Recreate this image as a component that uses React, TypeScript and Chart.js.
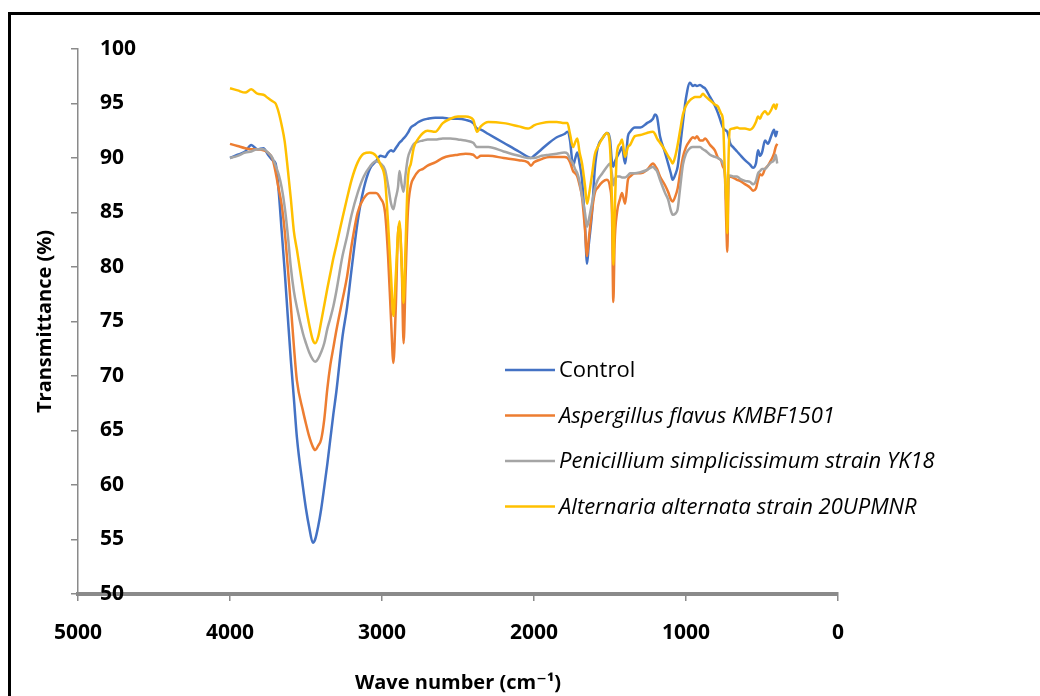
import React, { useEffect, useRef } from "react";
import { Chart, registerables } from "chart.js";

Chart.register(...registerables);

// Wave numbers (cm-1)
const waveNumbers = [
  4000, 3950, 3900, 3860, 3820, 3780, 3750, 3720, 3700, 3680, 3660, 3640, 3620, 3600, 3580, 3560,
  3520, 3500, 3480, 3455, 3440, 3420, 3400, 3380, 3360, 3340, 3320, 3300, 3260, 3230, 3200, 3160,
  3120, 3080, 3040, 3010, 2980, 2960, 2940, 2925, 2910, 2895, 2885, 2870, 2858, 2845, 2830, 2810,
  2790, 2760, 2730, 2700, 2650, 2600, 2550, 2500, 2450, 2400, 2375, 2350, 2300, 2200, 2100, 2040,
  2020, 2000, 1950, 1900, 1850, 1800, 1780, 1763, 1743, 1730, 1715, 1700, 1684, 1665, 1651, 1640,
  1618, 1600, 1580, 1550, 1520, 1500, 1487, 1478, 1470, 1454, 1435, 1421, 1401, 1382, 1368, 1336,
  1300, 1257, 1217, 1204, 1191, 1171, 1138, 1118, 1100, 1088, 1070, 1055, 1039, 1020, 1000, 974,
  955, 941, 928, 908, 888, 875, 842, 810, 789, 770, 757, 745, 735, 728, 720, 711,
  690, 664, 645, 612, 579, 559, 540, 526, 513, 500, 480, 461, 440, 421, 410, 400,
];

const control = [
  90.0, 90.3, 90.6, 91.2, 90.8, 90.9, 90.3, 89.8, 89.5, 87.0, 83.3, 79.6, 75.5, 71.5, 68.0, 64.4,
  59.8, 57.8, 56.2, 54.7, 55.0, 56.2, 57.8, 59.8, 61.9, 64.2, 66.5, 68.6, 73.6, 76.3, 79.8, 84.2,
  87.2, 89.0, 89.7, 90.2, 90.1, 90.5, 90.7, 90.6, 90.9, 91.2, 91.4, 91.6, 91.8, 92.0, 92.3, 92.8,
  93.0, 93.3, 93.5, 93.6, 93.7, 93.7, 93.6, 93.6, 93.5, 93.2, 92.7, 92.6, 92.2, 91.4, 90.6, 90.1,
  90.0, 90.2, 90.8, 91.4, 91.9, 92.2, 92.4, 91.6, 89.3, 89.9, 90.5, 89.5, 88.0, 84.0, 80.3, 82.0,
  85.0, 89.0, 91.0, 91.8, 92.3, 91.7, 89.6, 89.2, 89.6, 90.1, 90.6, 91.0, 89.5, 92.0, 92.4, 92.8,
  92.8, 93.2, 93.6, 94.0, 93.8, 92.0, 90.5, 89.5, 88.6, 88.0, 88.5, 89.2, 91.0, 93.3, 95.5, 96.9,
  96.6, 96.7, 96.6, 96.7, 96.5, 96.4, 95.6, 94.8, 94.1, 93.3, 92.8, 92.6, 92.5, 92.4, 92.0, 91.4,
  91.0, 90.6, 90.3, 89.8, 89.4, 89.1, 89.5, 90.7, 90.2, 90.5, 91.6, 91.3, 92.0, 92.6, 92.0, 92.5,
];

const aspergillus = [
  91.3, 91.1, 90.9, 90.8, 90.8, 90.7, 90.5, 89.9, 88.7, 87.2, 85.7, 83.3, 80.0, 76.5, 72.8, 69.6,
  66.8, 65.6, 64.5, 63.5, 63.2, 63.6, 64.2, 66.0, 68.8, 71.0, 72.6, 74.2, 77.0, 79.1, 82.0, 85.0,
  86.3, 86.8, 86.8, 86.3, 85.0, 81.0, 75.0, 71.2, 76.0, 83.0, 83.8, 80.0, 73.0, 79.0, 85.0, 87.5,
  88.2, 88.8, 89.0, 89.3, 89.6, 90.0, 90.2, 90.3, 90.4, 90.3, 90.0, 90.2, 90.2, 90.0, 89.8, 89.6,
  89.3, 89.6, 89.9, 90.1, 90.1, 90.1, 90.0, 89.6, 88.8, 88.6, 88.3, 87.5, 86.4, 83.5, 81.0, 82.5,
  85.2, 86.8, 87.3, 87.8, 88.0, 87.3, 85.0, 76.8, 82.0, 85.0, 86.2, 86.8, 85.8, 88.0, 88.3, 88.6,
  88.6, 88.9, 89.5, 89.3, 89.0, 88.3, 87.5, 86.9, 86.2, 86.0, 86.5, 87.2, 88.6, 90.1, 91.0, 91.6,
  91.9, 91.8, 92.0, 91.6, 91.6, 91.8, 91.2, 90.7, 90.0, 89.8, 89.2, 88.6, 84.0, 81.4, 88.0, 88.3,
  88.2, 88.0, 87.9, 87.6, 87.3, 87.0, 87.2, 88.0, 88.5, 88.4, 89.0, 89.3, 89.8, 90.4, 91.0, 91.3,
];

const penicillium = [
  90.0, 90.2, 90.5, 90.6, 90.8, 90.8, 90.5, 90.0, 89.3, 88.5, 87.3, 85.5, 83.0, 80.0, 77.8, 76.3,
  73.9, 73.0, 72.2, 71.5, 71.3, 71.6, 72.2, 73.0, 74.3, 75.3, 76.4, 77.8, 81.0, 82.8, 84.8, 86.8,
  88.3, 89.2, 89.7, 89.5, 88.9, 87.5, 85.8, 85.3, 86.3, 87.3, 88.8, 87.5, 86.9, 88.5, 90.0, 90.8,
  91.3, 91.5, 91.6, 91.7, 91.7, 91.8, 91.8, 91.7, 91.6, 91.4, 91.0, 91.0, 91.0, 90.6, 90.2, 90.0,
  90.0, 90.0, 90.2, 90.3, 90.4, 90.5, 90.4, 89.9, 89.5, 89.0, 88.6, 87.8, 86.5, 85.0, 83.7, 84.3,
  85.9, 87.2, 88.0, 88.6, 89.2, 89.5, 88.5, 87.5, 88.0, 88.3, 88.3, 88.2, 88.2, 88.4, 88.6, 88.6,
  88.7, 88.9, 89.2, 89.0, 88.8, 88.0, 86.8, 86.2, 85.2, 84.8, 84.9, 85.3, 87.2, 89.4, 90.4, 90.9,
  91.0, 91.0, 91.0, 91.0, 90.8, 90.7, 90.3, 90.1, 90.0, 89.8, 89.5, 88.8, 86.0, 85.0, 88.2, 88.4,
  88.3, 88.3, 88.1, 87.9, 87.8, 87.6, 87.9, 88.6, 88.8, 89.0, 89.0, 89.3, 89.6, 89.8, 90.3, 89.5,
];

const alternaria = [
  96.4, 96.2, 96.0, 96.3, 95.9, 95.8, 95.5, 95.2, 95.0, 94.2, 93.0, 91.5, 89.0, 86.3, 83.3, 81.6,
  78.0, 76.3, 74.8, 73.3, 73.0, 73.6, 75.0, 76.5, 78.0, 79.4, 80.8, 82.0, 84.5, 86.3, 88.0, 89.6,
  90.4, 90.5, 90.2, 89.4, 88.0, 84.0, 79.0, 75.5, 79.0, 83.0, 84.2, 80.0, 76.7, 82.0, 88.0, 89.5,
  91.0, 91.8, 92.3, 92.5, 92.4, 93.2, 93.6, 93.8, 93.8, 93.5, 92.4, 92.9, 93.3, 93.2, 92.9, 92.7,
  92.8, 93.0, 93.2, 93.3, 93.3, 93.2, 93.2, 92.2, 91.0, 91.4, 91.8, 90.5, 89.5, 87.5, 85.8, 86.5,
  88.5, 90.3, 91.0, 91.8, 92.3, 91.0, 86.0, 80.2, 84.5, 90.5, 91.3, 91.7, 90.1, 91.0, 91.2, 92.0,
  92.1, 92.3, 92.4, 92.2, 91.8, 91.4, 90.7, 90.2, 89.8, 89.5, 90.2, 91.2, 92.5, 94.0, 94.8, 95.3,
  95.5, 95.6, 95.6, 95.6, 95.9, 95.7, 95.3, 94.9, 94.7, 94.1, 93.5, 89.0, 86.0, 83.1, 90.0, 92.6,
  92.7, 92.8, 92.7, 92.7, 92.6, 92.8, 93.3, 93.8, 93.6, 94.0, 94.3, 94.0, 94.4, 94.9, 94.5, 95.0,
];

const seriesNames = [
  "Control",
  "Aspergillus flavus KMBF1501",
  "Penicillium simplicissimum strain YK18",
  "Alternaria alternata strain 20UPMNR",
];
const seriesValues = [control, aspergillus, penicillium, alternaria];
const seriesColors = ["#4472C4", "#ED7D31", "#A5A5A5", "#FFC000"];

const xTickValues = [5000, 4000, 3000, 2000, 1000, 0];
const yTickValues = [50, 55, 60, 65, 70, 75, 80, 85, 90, 95, 100];

const FONT = "'Open Sans', 'DejaVu Sans', sans-serif";

const insideLegend = {
  id: "insideLegend",
  afterDraw(chart: any) {
    const ctx = chart.ctx;
    ctx.save();
    chart.data.datasets.forEach((ds: any, i: number) => {
      const y = 370 + i * 45.5;
      ctx.strokeStyle = ds.borderColor;
      ctx.lineWidth = 2.5;
      ctx.beginPath();
      ctx.moveTo(505, y);
      ctx.lineTo(555, y);
      ctx.stroke();
      ctx.fillStyle = "#000";
      ctx.font = (i === 0 ? "" : "italic ") + "22px " + FONT;
      ctx.textBaseline = "middle";
      ctx.textAlign = "left";
      ctx.fillText(ds.label, 559, y + 1);
    });
    ctx.restore();
  },
};

export default function App() {
  const ref = useRef<HTMLCanvasElement | null>(null);

  useEffect(() => {
    if (!ref.current) return;
    const chart = new Chart(ref.current, {
      type: "line",
      data: {
        datasets: seriesNames.map((name, i) => ({
          label: name,
          data: waveNumbers.map((w, k) => ({ x: w, y: seriesValues[i][k] })),
          borderColor: seriesColors[i],
          backgroundColor: seriesColors[i],
          borderWidth: 2.5,
          pointRadius: 0,
          fill: false,
          cubicInterpolationMode: "monotone" as const,
          order: seriesNames.length - i,
        })),
      },
      options: {
        animation: false,
        responsive: false,
        events: [],
        layout: { padding: { left: 0, top: 49, right: 202, bottom: 0 } },
        plugins: {
          legend: { display: false },
          tooltip: { enabled: false },
        },
        scales: {
          x: {
            type: "linear",
            position: "bottom",
            min: 0,
            max: 5000,
            reverse: true,
            afterBuildTicks: (s: any) => {
              s.ticks = xTickValues.map((v) => ({ value: v }));
            },
            ticks: {
              callback: (v: any) => String(v),
              font: { family: FONT, size: 21, weight: "bold" },
              color: "#000",
              padding: 19,
              maxRotation: 0,
            },
            grid: {
              display: true,
              drawOnChartArea: false,
              drawTicks: true,
              tickLength: 7,
              color: "#8a8a8a",
              lineWidth: 1.5,
            },
            border: { display: true, color: "#8a8a8a", width: 4 },
            title: {
              display: true,
              text: "Wave number (cm\u207B\u00B9)",
              font: { family: FONT, size: 20, weight: "bold" },
              color: "#000",
              padding: { top: 0, bottom: 1 },
            },
            afterFit: (s: any) => {
              s.height = 102;
            },
          },
          y: {
            type: "linear",
            position: "left",
            min: 50,
            max: 100,
            afterBuildTicks: (s: any) => {
              s.ticks = yTickValues.map((v) => ({ value: v }));
            },
            ticks: {
              callback: (v: any) => String(v),
              mirror: true,
              padding: 22,
              font: { family: FONT, size: 21, weight: "bold" },
              color: "#000",
            },
            grid: {
              display: true,
              drawOnChartArea: false,
              drawTicks: true,
              tickLength: 7,
              color: "#8a8a8a",
              lineWidth: 1.5,
            },
            border: { display: true, color: "#8a8a8a", width: 1.5 },
            title: {
              display: true,
              text: "Transmittance (%)",
              font: { family: FONT, size: 20, weight: "bold" },
              color: "#000",
              padding: { top: 33, bottom: 0 },
            },
            afterFit: (s: any) => {
              s.width = 78;
            },
          },
        },
      },
      plugins: [insideLegend],
    });
    return () => chart.destroy();
  }, []);

  return (
    <div
      style={{
        position: "fixed",
        left: 0,
        top: 0,
        width: 1040,
        height: 696,
        overflow: "hidden",
        background: "#fff",
      }}
    >
      <canvas
        ref={ref}
        width={1040}
        height={696}
        style={{ position: "absolute", left: 0, top: 0, width: 1040, height: 696 }}
      />
      <div
        style={{
          position: "absolute",
          left: 8,
          top: 12,
          width: 1200,
          height: 1000,
          borderLeft: "3px solid #000",
          borderTop: "3px solid #000",
          pointerEvents: "none",
        }}
      />
    </div>
  );
}
